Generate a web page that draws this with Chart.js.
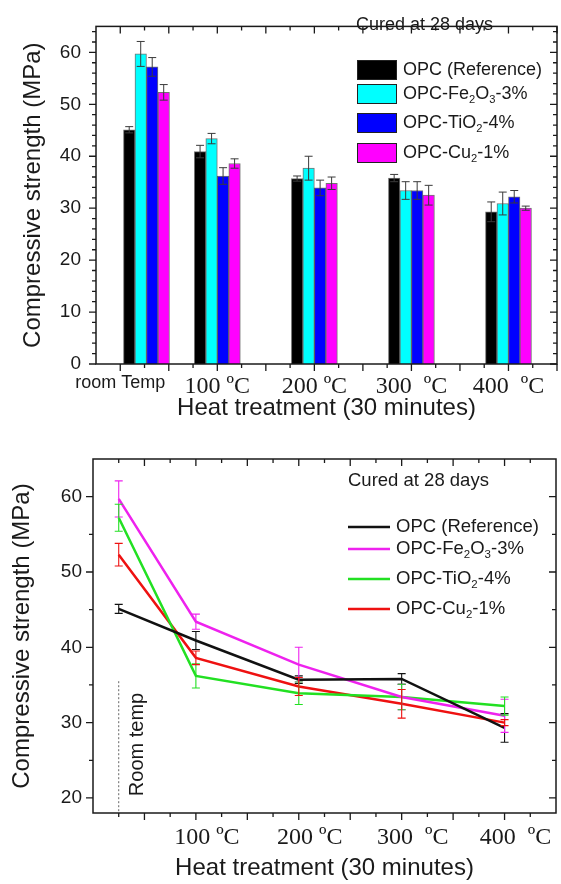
<!DOCTYPE html>
<html>
<head>
<meta charset="utf-8">
<script src="https://cdn.jsdelivr.net/npm/chart.js@4.4.1/dist/chart.umd.min.js"></script>
<style>
  html, body { margin: 0; padding: 0; background: #fff; }
  #page { position: relative; width: 561px; height: 884px; }
  .box { position: absolute; left: 0; width: 561px; }
  #top-box { top: 0; height: 430px; }
  #bottom-box { top: 430px; height: 454px; }
</style>
</head>
<body>
<div id="page">
  <div class="box" id="top-box"><canvas id="bar-chart"></canvas></div>
  <div class="box" id="bottom-box"><canvas id="line-chart"></canvas></div>
</div>
<script>
// series names (subscript digits get drawn small and lowered)
const seriesNames = ['OPC (Reference)', 'OPC-Fe₂O₃-3%', 'OPC-TiO₂-4%', 'OPC-Cu₂-1%'];

// temperature positions (room temp sits a bit right of 0 on the bar plot)
const barTemps = [27, 100, 200, 300, 400];
const lineTemps = [25, 100, 200, 300, 400];

// compressive strength, MPa, and error half-widths
const opcValues = [45.1, 40.9, 35.7, 35.8, 29.3];
const opcErrors = [0.6, 1.2, 0.5, 0.7, 1.9];
const feValues = [59.7, 43.4, 37.7, 33.4, 30.9];
const feErrors = [2.4, 1.0, 2.3, 1.7, 2.2];
const tiValues = [57.2, 36.2, 33.9, 33.4, 32.2];
const tiErrors = [1.8, 1.6, 1.5, 1.7, 1.2];
const cuValues = [52.3, 38.6, 34.8, 32.5, 30.0];
const cuErrors = [1.5, 0.9, 1.2, 1.9, 0.4];

// tick labels
const topTickValues = [0, 100, 200, 300, 400];
const topTickLabels = ['room Temp', '100 ºC', '200 ºC', '300  ºC', '400  ºC'];
const bottomTickValues = [100, 200, 300, 400];
const bottomTickLabels = ['100 ºC', '200 ºC', '300  ºC', '400  ºC'];

// tick marks
const topXMajor = [0, 50, 100, 150, 200, 250, 300, 350, 400, 450];
const topXMinor = [25, 75, 125, 175, 225, 275, 325, 375, 425];
const topYMajor = [0, 10, 20, 30, 40, 50, 60];
const topYMinor = [2, 4, 6, 8, 12, 14, 16, 18, 22, 24, 26, 28, 32, 34, 36, 38, 42, 44, 46, 48, 52, 54, 56, 58, 62, 64];
const botXMajor = [50, 100, 150, 200, 250, 300, 350, 400];
const botXMinor = [25, 75, 125, 175, 225, 275, 325, 375, 425];
const botYMajor = [20, 30, 40, 50, 60];
const botYMinor = [25, 35, 45, 55];

// "Room temp" marker (axis units)
const roomMarkerTop = 35.5;
const roomLabelY = 27.1;

const SANS = '"Liberation Sans", Arial, sans-serif';
const SERIF = '"Liberation Serif", "Times New Roman", serif';
const INK = '#1a1a1a';

const barColors = ['#000000', '#00ffff', '#0000ff', '#ff00ff'];
const lineColors = ['#111111', '#ee22ee', '#22e022', '#ee1111'];

const allValues = [opcValues, feValues, tiValues, cuValues];
const allErrors = [opcErrors, feErrors, tiErrors, cuErrors];

const SUB = { '₀': '0', '₁': '1', '₂': '2', '₃': '3', '₄': '4', '₅': '5', '₆': '6', '₇': '7', '₈': '8', '₉': '9' };

function drawRich(ctx, text, x, y, size) {
  // split into normal / subscript runs
  const runs = [];
  for (const ch of text) {
    const sub = ch in SUB;
    const c = sub ? SUB[ch] : ch;
    const last = runs[runs.length - 1];
    if (last && last.sub === sub) last.t += c;
    else runs.push({ t: c, sub });
  }
  let cx = x;
  runs.forEach(r => {
    const s = r.sub ? size * 0.62 : size;
    ctx.font = s + 'px ' + SANS;
    ctx.fillText(r.t, cx, r.sub ? y + size * 0.32 : y);
    cx += ctx.measureText(r.t).width;
  });
}

const framePlugin = {
  id: 'frame',
  afterDatasetsDraw(chart, args, opts) {
    const { ctx, chartArea: a } = chart;
    const x = chart.scales.x, y = chart.scales.y;
    ctx.save();
    ctx.strokeStyle = INK;
    ctx.lineWidth = 1.5;
    ctx.strokeRect(a.left, a.top, a.right - a.left, a.bottom - a.top);
    ctx.lineWidth = 1.3;
    ctx.beginPath();
    const xt = (vals, len) => vals.forEach(v => {
      const px = x.getPixelForValue(v);
      ctx.moveTo(px, a.bottom); ctx.lineTo(px, a.bottom + len);
      ctx.moveTo(px, a.top); ctx.lineTo(px, a.top + len);
    });
    const yt = (vals, len) => vals.forEach(v => {
      const py = y.getPixelForValue(v);
      ctx.moveTo(a.left, py); ctx.lineTo(a.left - len, py);
      ctx.moveTo(a.right, py); ctx.lineTo(a.right - len, py);
    });
    xt(opts.xMajor, 7); xt(opts.xMinor, 4);
    yt(opts.yMajor, 7); yt(opts.yMinor, 4);
    ctx.stroke();
    ctx.restore();
  }
};

const errorBarsPlugin = {
  id: 'errorBars',
  afterDatasetsDraw(chart, args, opts) {
    const ctx = chart.ctx, y = chart.scales.y;
    chart.data.datasets.forEach((ds, i) => {
      const meta = chart.getDatasetMeta(i);
      ctx.save();
      ctx.strokeStyle = opts.color || ds.borderColor;
      ctx.lineWidth = opts.width;
      ctx.beginPath();
      meta.data.forEach((el, j) => {
        const v = ds.data[j].y, e = ds.errors[j];
        const px = el.x;
        const top = y.getPixelForValue(v + e), bot = y.getPixelForValue(v - e);
        ctx.moveTo(px, top); ctx.lineTo(px, bot);
        ctx.moveTo(px - opts.cap, top); ctx.lineTo(px + opts.cap, top);
        ctx.moveTo(px - opts.cap, bot); ctx.lineTo(px + opts.cap, bot);
      });
      ctx.stroke();
      ctx.restore();
    });
  }
};

const sketchLegend = {
  id: 'sketchLegend',
  afterDraw(chart, args, opts) {
    const ctx = chart.ctx;
    ctx.save();
    ctx.fillStyle = INK;
    ctx.textBaseline = 'middle';
    ctx.textAlign = 'left';
    ctx.font = opts.size + 'px ' + SANS;
    ctx.fillText(opts.note, opts.noteX, opts.noteY);
    chart.data.datasets.forEach((ds, i) => {
      const ry = opts.rows[i];
      if (opts.swatch === 'box') {
        ctx.fillStyle = ds.backgroundColor;
        ctx.fillRect(opts.x, ry - 10, 40, 20);
        ctx.strokeStyle = '#222';
        ctx.lineWidth = 1;
        ctx.strokeRect(opts.x + 0.5, ry - 9.5, 39, 19);
      } else {
        ctx.strokeStyle = ds.borderColor;
        ctx.lineWidth = 2.5;
        ctx.beginPath();
        ctx.moveTo(opts.x, ry); ctx.lineTo(opts.x + 42, ry);
        ctx.stroke();
      }
      ctx.fillStyle = INK;
      drawRich(ctx, seriesNames[i], opts.textX, ry, opts.size);
    });
    ctx.restore();
  }
};

const roomMarker = {
  id: 'roomMarker',
  afterDatasetsDraw(chart) {
    const { ctx } = chart;
    const x = chart.scales.x, y = chart.scales.y;
    const px = x.getPixelForValue(lineTemps[0]);
    ctx.save();
    ctx.strokeStyle = '#666';
    ctx.lineWidth = 1;
    ctx.setLineDash([2, 2]);
    ctx.beginPath();
    ctx.moveTo(px, y.getPixelForValue(roomMarkerTop));
    ctx.lineTo(px, chart.chartArea.bottom);
    ctx.stroke();
    ctx.setLineDash([]);
    ctx.translate(px + 19, y.getPixelForValue(roomLabelY));
    ctx.rotate(-Math.PI / 2);
    ctx.fillStyle = INK;
    ctx.font = '20px ' + SANS;
    ctx.textAlign = 'center';
    ctx.textBaseline = 'middle';
    ctx.fillText('Room temp', 0, 0);
    ctx.restore();
  }
};

// ---------- bar chart ----------
new Chart(document.getElementById('bar-chart'), {
  type: 'bar',
  data: {
    datasets: allValues.map((vals, i) => ({
      label: seriesNames[i],
      data: vals.map((v, j) => ({ x: barTemps[j], y: v })),
      errors: allErrors[i],
      backgroundColor: barColors[i],
      borderColor: 'rgba(0,0,0,0.55)',
      borderWidth: 1,
      barThickness: 11.5
    }))
  },
  options: {
    responsive: true,
    maintainAspectRatio: false,
    animation: false,
    layout: { padding: { top: 11, right: 4, left: 0, bottom: 0 } },
    plugins: {
      legend: { display: false },
      tooltip: { enabled: false },
      frame: { xMajor: topXMajor, xMinor: topXMinor, yMajor: topYMajor, yMinor: topYMinor },
      errorBars: { color: '#3a3a3a', width: 1, cap: 4 },
      sketchLegend: { note: 'Cured at 28 days', noteX: 356, noteY: 25, x: 357, textX: 403, rows: [70, 94, 123, 153], size: 18, swatch: 'box' }
    },
    scales: {
      x: {
        type: 'linear', min: -25, max: 450, offset: false,
        grid: { display: false, drawTicks: false },
        border: { display: false },
        afterBuildTicks: s => { s.ticks = topTickValues.map(v => ({ value: v })); },
        afterFit: s => { s.height = 66; },
        ticks: {
          padding: 8, color: INK, autoSkip: false, maxRotation: 0,
          callback: (v, i) => topTickLabels[i],
          font: c => (c.index === 0 ? { family: SANS, size: 18 } : { family: SERIF, size: 24 })
        },
        title: { display: true, text: 'Heat treatment (30 minutes)', color: INK, font: { family: SANS, size: 24 }, padding: { top: 0, bottom: 7 } }
      },
      y: {
        min: 0, max: 65,
        grid: { display: false, drawTicks: false },
        border: { display: false },
        afterBuildTicks: s => { s.ticks = topYMajor.map(v => ({ value: v })); },
        afterFit: s => { s.width = 96; },
        ticks: { padding: 15, color: INK, font: { family: SANS, size: 19 } },
        title: { display: true, text: 'Compressive strength (MPa)', color: INK, font: { family: SANS, size: 24 }, padding: { top: 19, bottom: 0 } }
      }
    }
  },
  plugins: [errorBarsPlugin, framePlugin, sketchLegend]
});

// ---------- line chart ----------
new Chart(document.getElementById('line-chart'), {
  type: 'line',
  data: {
    datasets: allValues.map((vals, i) => ({
      label: seriesNames[i],
      data: vals.map((v, j) => ({ x: lineTemps[j], y: v })),
      errors: allErrors[i],
      borderColor: lineColors[i],
      backgroundColor: lineColors[i],
      borderWidth: 2.5,
      pointRadius: 0,
      tension: 0,
      fill: false
    }))
  },
  options: {
    responsive: true,
    maintainAspectRatio: false,
    animation: false,
    layout: { padding: { top: 29, right: 5, left: 0, bottom: 0 } },
    plugins: {
      legend: { display: false },
      tooltip: { enabled: false },
      frame: { xMajor: botXMajor, xMinor: botXMinor, yMajor: botYMajor, yMinor: botYMinor },
      errorBars: { width: 1.1, cap: 4 },
      sketchLegend: { note: 'Cured at 28 days', noteX: 348, noteY: 51, x: 348, textX: 396, rows: [97, 119, 149, 179], size: 18.5, swatch: 'line' }
    },
    scales: {
      x: {
        type: 'linear', min: 0, max: 450,
        grid: { display: false, drawTicks: false },
        border: { display: false },
        afterBuildTicks: s => { s.ticks = bottomTickValues.map(v => ({ value: v })); },
        afterFit: s => { s.height = 71; },
        ticks: {
          padding: 10, labelOffset: 11, color: INK, autoSkip: false, maxRotation: 0,
          callback: (v, i) => bottomTickLabels[i],
          font: { family: SERIF, size: 24 }
        },
        title: { display: true, text: 'Heat treatment (30 minutes)', color: INK, font: { family: SANS, size: 24 }, padding: { top: 0, bottom: 1 } }
      },
      y: {
        min: 18, max: 65,
        grid: { display: false, drawTicks: false },
        border: { display: false },
        afterBuildTicks: s => { s.ticks = botYMajor.map(v => ({ value: v })); },
        afterFit: s => { s.width = 93; },
        ticks: { padding: 11, color: INK, font: { family: SANS, size: 19 } },
        title: { display: true, text: 'Compressive strength (MPa)', color: INK, font: { family: SANS, size: 24 }, padding: { top: 8, bottom: 0 } }
      }
    }
  },
  plugins: [errorBarsPlugin, framePlugin, sketchLegend, roomMarker]
});
</script>
</body>
</html>
